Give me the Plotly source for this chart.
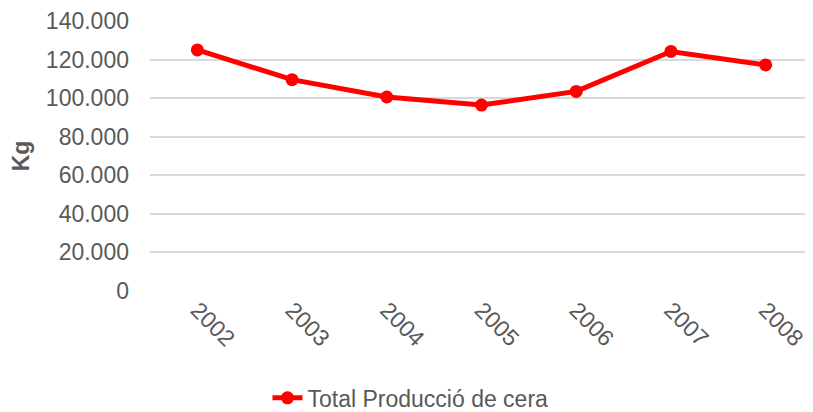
import plotly.graph_objects as go

years = ["2002", "2003", "2004", "2005", "2006", "2007", "2008"]
production = [125000, 109600, 100600, 96400, 103500, 124200, 117200]
series_name = "Total Producció de cera"
y_ticks = [0, 20000, 40000, 60000, 80000, 100000, 120000, 140000]

fig = go.Figure()
fig.add_trace(go.Scatter(
    x=years, y=production, name=series_name, mode="lines+markers",
    line=dict(color="#FF0000", width=5),
    marker=dict(color="#FF0000", size=13),
))

fig.update_layout(
    width=805, height=404,
    margin=dict(l=142, r=0, t=13, b=121, autoexpand=False),
    paper_bgcolor="white", plot_bgcolor="white",
    separators=",.",
    font=dict(family="Liberation Sans, Arial, sans-serif", size=23, color="#595959"),
    showlegend=True,
    legend=dict(orientation="h", xref="container", yref="container",
                x=0.5, y=0.035, xanchor="center", yanchor="middle",
                font=dict(size=23, color="#595959")),
)
fig.update_xaxes(
    type="category", range=[-0.5, 6.5], showgrid=False, showline=False,
    zeroline=False, ticks="", tickangle=45, automargin=False,
    tickfont=dict(size=23, color="#595959"),
)
fig.update_yaxes(
    range=[0, 140000], tickvals=y_ticks, tickformat=",d", automargin=False,
    showgrid=True, gridcolor="#D9D9D9", gridwidth=1.5, zeroline=False,
    showline=False, ticks="", ticklabelstandoff=20,
    title=dict(text="<b>Kg</b>", font=dict(size=23, color="#595959"), standoff=14),
    tickfont=dict(size=23, color="#595959"),
)

fig.write_html("out.html")
